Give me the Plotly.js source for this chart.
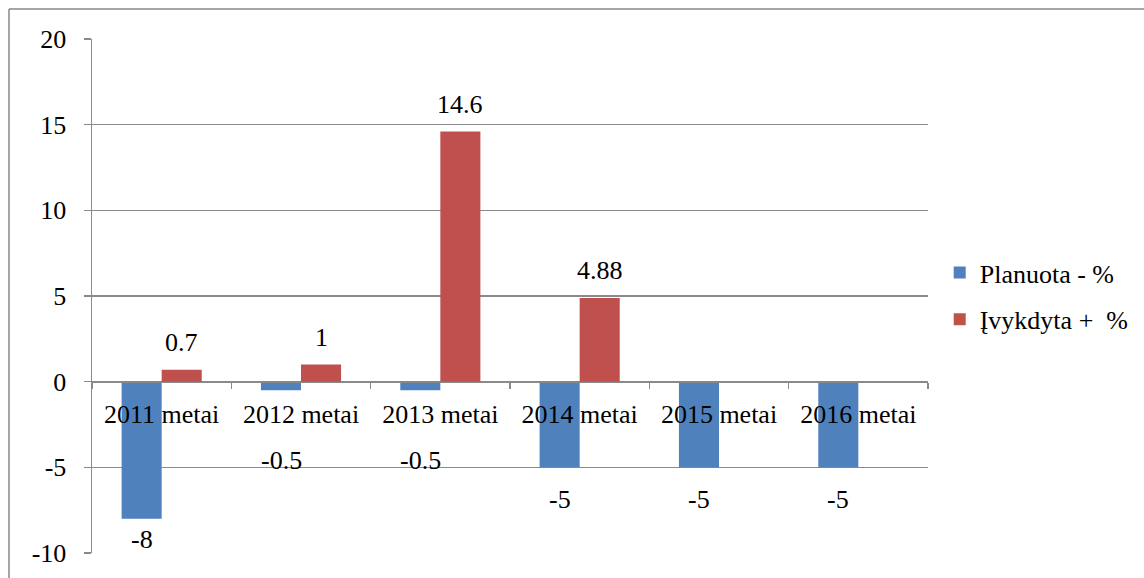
<!DOCTYPE html>
<html><head><meta charset="utf-8">
<script src="https://cdn.plot.ly/plotly-3.0.1.min.js"></script>
<style>body{margin:0;background:#fff}#c{width:1144px;height:578px}</style>
</head><body><div id="c"></div>
<script>
var categories = ["2011 metai","2012 metai","2013 metai","2014 metai","2015 metai","2016 metai"];
var planuota = [-8, -0.5, -0.5, -5, -5, -5];
var ivykdyta = [0.7, 1, 14.6, 4.88, null, null];
var seriesNames = ["Planuota - %", "Įvykdyta +  %"];
var yTicks = [-10, -5, 0, 5, 10, 15, 20];
// label offsets (px) below negative bars, as placed in the original
var negLabelShift = [-4, -54, -54, -16, -16, -16];

var FONT = "Times New Roman, Liberation Serif, DejaVu Serif, serif";
var FS = 26;
var grid = "#8a8a8a";

var traces = [
  {type:"bar", name:seriesNames[0], x:categories, y:planuota, marker:{color:"#4F81BD"}, legendgroup:"a", hoverinfo:"none"},
  {type:"bar", name:seriesNames[1], x:categories, y:ivykdyta, marker:{color:"#C0504D"}, legendgroup:"b", hoverinfo:"none"}
];

var annotations = [];
var half = 20;
categories.forEach(function(c, i){
  var v = planuota[i];
  if (v !== null) annotations.push({x:c, y:v, xref:"x", yref:"y", text:String(v), showarrow:false,
    xshift:-half, yanchor:"top", yshift:negLabelShift[i], font:{family:FONT, size:FS, color:"#000"}});
  var w = ivykdyta[i];
  if (w !== null) annotations.push({x:c, y:w, xref:"x", yref:"y", text:String(w), showarrow:false,
    xshift:half, yanchor:"bottom", yshift:11, font:{family:FONT, size:FS, color:"#000"}});
});

var layout = {
  width:1144, height:578,
  margin:{l:92, r:216, t:39, b:25, autoexpand:false},
  paper_bgcolor:"#fff", plot_bgcolor:"#fff",
  font:{family:FONT, size:FS, color:"#000"},
  barmode:"group", bargap:0.425, bargroupgap:0,
  showlegend:true,
  legend:{x:1.014, y:0.5, xanchor:"left", yanchor:"middle", font:{family:FONT, size:FS, color:"#000"},
    traceorder:"grouped", tracegroupgap:10, bgcolor:"rgba(0,0,0,0)"},
  xaxis:{type:"category", range:[-0.5, 5.5], anchor:"free", position:1/3,
    showline:true, linecolor:grid, linewidth:1.5, showgrid:false, zeroline:false,
    ticks:"outside", tickson:"boundaries", ticklen:6, tickcolor:grid, tickwidth:1.5,
    ticklabelstandoff:9, tickfont:{family:FONT, size:FS, color:"#000"}, fixedrange:true},
  yaxis:{range:[-10, 20], tickvals:yTicks, ticktext:yTicks.map(String),
    showline:true, linecolor:grid, linewidth:1.5, showgrid:true, gridcolor:grid, gridwidth:1.5,
    zeroline:false, ticks:"outside", ticklen:7, tickcolor:grid, tickwidth:1.5,
    ticklabelstandoff:12, tickfont:{family:FONT, size:FS, color:"#000"}, fixedrange:true},
  annotations:annotations,
  shapes:[
    {type:"line", xref:"paper", yref:"paper", x0:-0.0993, x1:1.3, y0:1.0585, y1:1.0585, line:{color:"#888", width:1.5}},
    {type:"line", xref:"paper", yref:"paper", x0:-0.0993, x1:-0.0993, y0:-0.2, y1:1.0585, line:{color:"#888", width:1.5}}
  ]
};
Plotly.newPlot("c", traces, layout, {displayModeBar:false, staticPlot:true});
</script></body></html>
